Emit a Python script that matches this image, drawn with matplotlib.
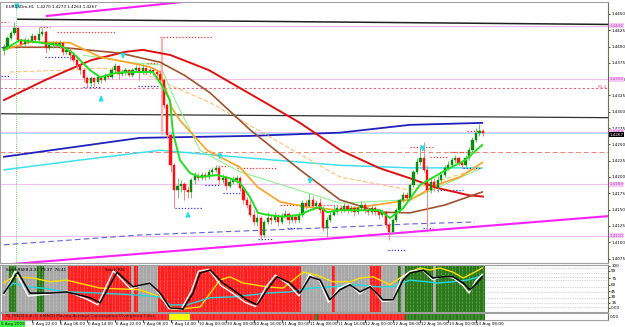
import matplotlib
matplotlib.use('Agg')
import matplotlib.pyplot as plt
from matplotlib.patches import Rectangle

# ---------------- data ----------------
title = "EURUSDm,H1  1.4270 1.4273 1.4263 1.4267"
first_open = 1.4395
close = [1.4399,1.4413,1.4421,1.4428,1.4410,1.4404,1.4410,1.4407,1.4416,1.4410,
         1.4419,1.4422,1.4398,1.4402,1.4406,1.4402,1.4406,1.4392,1.4395,1.4387,
         1.4379,1.4372,1.4364,1.4352,1.4344,1.4352,1.4346,1.4353,1.4349,1.4356,
         1.4353,1.4364,1.4370,1.4358,1.4361,1.4364,1.4356,1.4364,1.4367,1.4361,
         1.4367,1.4361,1.4364,1.4361,1.4358,1.4349,1.4310,1.4264,1.4218,1.4180,
         1.4186,1.4189,1.4180,1.4177,1.4195,1.4202,1.4198,1.4203,1.4200,1.4208,
         1.4211,1.4214,1.4195,1.4198,1.4186,1.4192,1.4195,1.4198,1.4183,1.4165,
         1.4157,1.4142,1.4131,1.4137,1.4111,1.4131,1.4137,1.4134,1.4140,1.4131,
         1.4140,1.4143,1.4134,1.4139,1.4134,1.4142,1.4160,1.4156,1.4165,1.4156,
         1.4160,1.4149,1.4122,1.4134,1.4142,1.4146,1.4152,1.4149,1.4156,1.4149,
         1.4152,1.4146,1.4152,1.4157,1.4149,1.4146,1.4152,1.4146,1.4142,1.4146,
         1.4126,1.4116,1.4134,1.4149,1.4165,1.4172,1.4168,1.4188,1.4208,1.4223,
         1.4229,1.4211,1.4180,1.4192,1.4183,1.4195,1.4203,1.4214,1.4218,1.4226,
         1.4229,1.4222,1.4218,1.4229,1.4241,1.4257,1.4268,1.4270,1.4267]
high = [1.4404,1.4416,1.4424,1.4438,1.4430,1.4413,1.4415,1.4413,1.4421,1.4418,
        1.4430,1.4428,1.4425,1.4407,1.4409,1.4409,1.4410,1.4407,1.4399,1.4399,
        1.4390,1.4384,1.4375,1.4367,1.4355,1.4355,1.4353,1.4356,1.4356,1.4360,
        1.4360,1.4369,1.4375,1.4372,1.4366,1.4369,1.4366,1.4367,1.4372,1.4370,
        1.4373,1.4369,1.4367,1.4366,1.4363,1.4364,1.4352,1.4314,1.4268,1.4222,
        1.4198,1.4195,1.4192,1.4186,1.4198,1.4208,1.4206,1.4208,1.4208,1.4212,
        1.4215,1.4218,1.4217,1.4205,1.4203,1.4198,1.4202,1.4203,1.4202,1.4188,
        1.4169,1.4165,1.4149,1.4143,1.4140,1.4134,1.4146,1.4142,1.4146,1.4143,
        1.4145,1.4149,1.4146,1.4143,1.4142,1.4146,1.4165,1.4165,1.4175,1.4171,
        1.4165,1.4168,1.4156,1.4139,1.4146,1.4157,1.4157,1.4157,1.4160,1.4159,
        1.4157,1.4156,1.4157,1.4163,1.4160,1.4154,1.4157,1.4156,1.4151,1.4151,
        1.4149,1.4131,1.4137,1.4152,1.4168,1.4177,1.4177,1.4191,1.4211,1.4229,
        1.4249,1.4254,1.4218,1.4198,1.4198,1.4202,1.4208,1.4218,1.4225,1.4231,
        1.4234,1.4231,1.4225,1.4234,1.4246,1.4261,1.4275,1.4281,1.4273]
low = [1.4387,1.4396,1.4410,1.4418,1.4407,1.4399,1.4401,1.4404,1.4406,1.4407,
       1.4409,1.4416,1.4390,1.4395,1.4398,1.4399,1.4398,1.4387,1.4389,1.4379,
       1.4376,1.4367,1.4358,1.4346,1.4338,1.4340,1.4340,1.4343,1.4344,1.4347,
       1.4350,1.4350,1.4361,1.4350,1.4355,1.4356,1.4353,1.4353,1.4363,1.4349,
       1.4358,1.4358,1.4358,1.4356,1.4352,1.4346,1.4306,1.4260,1.4208,1.4152,
       1.4168,1.4177,1.4165,1.4168,1.4168,1.4189,1.4194,1.4195,1.4195,1.4197,
       1.4203,1.4208,1.4189,1.4191,1.4180,1.4183,1.4189,1.4191,1.4179,1.4159,
       1.4152,1.4139,1.4126,1.4125,1.4103,1.4108,1.4128,1.4128,1.4131,1.4125,
       1.4128,1.4137,1.4128,1.4131,1.4129,1.4131,1.4139,1.4151,1.4154,1.4149,
       1.4152,1.4145,1.4117,1.4108,1.4131,1.4140,1.4143,1.4145,1.4146,1.4145,
       1.4146,1.4140,1.4143,1.4149,1.4145,1.4142,1.4143,1.4142,1.4136,1.4139,
       1.4122,1.4103,1.4113,1.4131,1.4146,1.4162,1.4163,1.4165,1.4185,1.4205,
       1.4218,1.4208,1.4119,1.4175,1.4179,1.4177,1.4192,1.4200,1.4211,1.4215,
       1.4222,1.4218,1.4214,1.4215,1.4226,1.4238,1.4254,1.4263,1.4263]

# moving averages (bar index, price)
red_ma_x = [0,12,25,35,40,48,59,74,85,97,108,117,125,134,138]
red_ma_y = [1.4318,1.4349,1.4379,1.4392,1.4395,1.4387,1.4364,1.4318,1.4284,1.4241,1.4214,1.4198,1.4183,1.4172,1.4170]
brown_ma_x = [0,16,33.4,45,52,59.4,71,85.3,96.8,108.4,117,127,137.8]
brown_ma_y = [1.4399,1.4399,1.4390,1.4376,1.4356,1.4329,1.4272,1.4211,1.4165,1.4146,1.4145,1.4157,1.4177]
orange_ma_x = [0,7.5,19,27.7,35.4,42,45,48.4,50.7,58.5,68,73,79.5,87.3,96.8,117,124.8,131.4,137.8]
orange_ma_y = [1.4395,1.4407,1.4406,1.4384,1.4376,1.4369,1.4361,1.4306,1.4287,1.4241,1.4215,1.4185,1.4162,1.4154,1.4149,1.4165,1.4188,1.4200,1.4222]
green_ma_x = [0,4.6,10.4,16.1,19.9,24.8,27.7,32.6,37.2,42.9,45.8,47.8,48.7,50.7,53.6,56.5,61.4,65.1,68,70.9,
              73.2,75.8,80.4,85.3,88.2,91.1,93.1,96.8,108.4,111.2,115,119.9,126.5,132.9,137.8]
green_ma_y = [1.4395,1.4410,1.4406,1.4402,1.4390,1.4364,1.4353,1.4360,1.4361,1.4361,1.4338,1.4318,1.4268,1.4226,1.4206,1.4200,1.4203,1.4198,1.4191,1.4169,
              1.4145,1.4142,1.4139,1.4142,1.4149,1.4154,1.4146,1.4149,1.4149,1.4137,1.4152,1.4188,1.4208,1.4226,1.4249]
blue_ma_x = [0,39.2,70.9,96.8,117,137.8]
blue_ma_y = [1.4231,1.4260,1.4263,1.4268,1.4280,1.4283]
cyan_ma_x = [0,21.9,45,70.9,96.8,117,137.8]
cyan_ma_y = [1.4211,1.4226,1.4241,1.4229,1.4218,1.4214,1.4214]
lorange_x = [1.7,18.2,27.7,39.2,59.4,96.8,117,137.8]
lorange_y = [1.4361,1.4364,1.4367,1.4361,1.4314,1.4200,1.4180,1.4215]
lgreen_x = [22.8,37.2,45,49.3,56.5,68,96.8,117,137.8]
lgreen_y = [1.4387,1.4375,1.4372,1.4318,1.4241,1.4208,1.4160,1.4165,1.4214]
purple_x = [0,39.2,96.8,117,135.7]
purple_y = [1.4096,1.4111,1.4123,1.4128,1.4131]

# trend / level lines
chan_low_x = [-1.2, 174.1]
chan_low_y = [1.4065, 1.4140]
chan_high_x = [12.4, 80]
chan_high_y = [1.4447, 1.4484]
black_top_x = [4, 174.1]
black_top_y = [1.4442, 1.4434]
black_mid_x = [-1.2, 174.1]
black_mid_y = [1.4297, 1.4291]
pivot_levels = [1.4432, 1.4350, 1.4269, 1.4189, 1.4110]
red_level = 1.4336
salmon_level = 1.4238
bid = 1.4267

# fractal dotted segments (start bar, end bar, price)
frac_hi = [(-1,1.2,1.4438),(10.4,13.3,1.4430),(15.3,32,1.4422),(41.2,44.1,1.4375),(45,60,1.4415),
           (61.7,64.6,1.4217),(67.1,78.7,1.4214),(79.5,96.8,1.4157),(117,123.6,1.4246),
           (122.8,127.7,1.4231),(128.5,133.4,1.4238),(133.4,137.2,1.4270)]
frac_lo = [(-1,4.6,1.4399),(-1,1.7,1.4355),(11.8,21,1.4384),(22.8,27.7,1.4338),(38.6,45,1.4340),
           (49.3,57.3,1.4152),(57.9,62.2,1.4188),(63.1,68,1.4175),(73.2,77.5,1.4105),(81.6,84.4,1.4122),
           (110.7,115.6,1.4088),(120.7,123.6,1.4122),(124.8,132.3,1.4180),(132.3,137.2,1.4214)]
arrows_down = [(3.7,1.4459),(34.3,1.4383),(62.2,1.4229),(88.2,1.4191),(120.7,1.4241)]
arrows_up = [(28,1.4323),(53,1.4145)]
news_bar, news_top, news_bot = 45.5, 1.4415, 1.4264
marker_bar = 3.5

# oscillator
yel_x = [0,2.6,8.4,13.3,18,27.7,39.2,45,47.8,50.7,56.5,62.2,65.1,68.9,75.8,80.4,86.2,90.2,94.8,99.7,102.6,106.3,111.2,114.1,117,119.9,122.8,125.6,129.4,132.3,135.2,137.8]
yel_y = [64,79,76,67,71,52,48,31,7,2,7,71,79,64,55,52,90,83,67,67,76,79,60,76,90,100,95,100,90,76,88,100]
cya_x = [0,2.6,6.6,11.2,18,27.7,37.2,45,47.8,52.7,59.4,66,75.8,82.4,88.2,94.8,101.7,107.5,112.1,117,121.9,124.8,129.4,133.4,137.8]
cya_y = [43,64,55,52,43,40,36,31,12,12,29,31,40,43,52,55,60,55,55,71,67,64,67,71,81]
blk_x = [0,4,7.5,13.3,18,24.8,27.7,32.6,37.2,42,45,47.8,51.6,54.5,56.5,59.4,63.1,66,70,72.9,75.8,78.7,82.4,85.3,88.2,91.1,93.9,96.8,99.7,102.6,105.5,109.2,112.1,115,117,120.8,123.6,126.5,129.4,132.3,134.3,136.3,137.8]
blk_y = [40,90,40,40,43,29,17,90,55,64,40,5,2,40,88,95,64,48,24,12,48,79,64,40,79,71,24,48,60,43,55,24,24,71,88,95,76,79,79,64,48,64,79]
wht_x = [0,3.2,7,13.3,18,24,27,31.5,36.5,42,45,47.5,51,54,56,59,62.5,65.5,69.5,72.5,75.5,78.2,82,85,88,91,93.5,96.5,99.5,102.5,105.5,109,112,114.5,117,120.5,123.5,126.5,129.5,132.3,134,136,137.8]
wht_y = [36,93,33,38,45,25,12,93,50,66,35,3,1,45,92,97,58,42,18,8,55,83,60,33,85,68,18,52,63,38,58,20,22,76,92,96,72,80,76,58,40,70,85]
osc_runs = [('gray',2),('green',2),('gray',6),('green',2),('gray',7),('red',18),('gray',1),('red',1),
            ('gray',6),('red',41),('gray',9),('red',1),('gray',10),('red',3),('gray',5),('green',1),
            ('gray',1),('green',8),('gray',1),('green',14)]
osc_levels = [100, 88, 79, 71, 55, 43, 29, 17, 7]
osc_labels = ['100', '90', '75', '60', '45', '30', '15', '0.00']
osc_label_vals = [105, 93, 76, 60, 45, 31, 17, 5]
strip_runs = [('red',48),('yellow',6),('red',36),('green',1),('red',25),('green',23)]

time_labels = ["5 Aug 22:00","6 Aug 06:00","6 Aug 14:00","6 Aug 22:00","7 Aug 06:00","7 Aug 14:00",
               "10 Aug 00:00","10 Aug 08:00","10 Aug 16:00","11 Aug 00:00","11 Aug 08:00","11 Aug 16:00",
               "12 Aug 00:00","12 Aug 08:00","12 Aug 16:00","13 Aug 00:00","13 Aug 08:00"]
time_label_bars = [8*k for k in range(1, 18)]
first_date = "5 Aug 2009"

# ---------------- figure ----------------
W, H = 625, 327
fig = plt.figure(figsize=(W/100, H/100), dpi=100)
fig.patch.set_facecolor('white')
def fx(p): return p / W
def fy(p): return 1 - p / H

XMIN, XMAX = -1.15, 174.05
ax = fig.add_axes([0, fy(263), fx(608), (263 - 2) / H])
osc = fig.add_axes([0, fy(312), fx(608), (312 - 265) / H])
strip = fig.add_axes([0, fy(320), fx(608), (320 - 313) / H])
for a in (ax, osc, strip):
    a.set_xlim(XMIN, XMAX)
    a.set_xticks([])
    for s in a.spines.values():
        s.set_color('#a0a0a0'); s.set_linewidth(0.8)
    a.spines['right'].set_color('#707050')
ax.set_ylim(1.40681, 1.44684)
osc.set_ylim(-5, 107)
strip.set_ylim(0, 1)

FS = 3.0
# price axis
ticks = [1.4075 + 0.0025 * k for k in range(16)]
ax.yaxis.tick_right()
ax.set_yticks(ticks)
ax.set_yticklabels(['%.4f' % t for t in ticks], fontsize=FS)
ax.tick_params(axis='y', length=1.5, width=0.5, pad=0.8, colors='black')

# levels
ax.axhline(bid, color='#80e8ff', lw=1.2, zorder=1)
for p in pivot_levels:
    ax.axhline(p, color='#f0c0f0', lw=0.8, zorder=1)
ax.axhline(red_level, color='#f06080', lw=0.8, ls=(0, (2, 2)), zorder=1)
ax.axhline(salmon_level, color='#f08070', lw=0.7, ls=(0, (5, 3)), zorder=1)

# trend lines
ax.plot(black_top_x, black_top_y, color='#202020', lw=1.1, zorder=2)
ax.plot(black_mid_x, black_mid_y, color='#303030', lw=0.9, zorder=2)
ax.plot(chan_low_x, chan_low_y, color='#ff20ff', lw=1.5, zorder=2)
ax.plot(chan_high_x, chan_high_y, color='#ff20ff', lw=1.5, zorder=2)

# moving averages
ax.plot(purple_x, purple_y, color='#6060e0', lw=0.8, ls=(0, (5, 3)), zorder=2)
ax.plot(blue_ma_x, blue_ma_y, color='#2020c0', lw=1.3, zorder=2)
ax.plot(cyan_ma_x, cyan_ma_y, color='#40e0f0', lw=1.1, zorder=2)
ax.plot(lorange_x, lorange_y, color='#ffc070', lw=0.8, ls=(0, (4, 2)), zorder=2)
ax.plot(lgreen_x, lgreen_y, color='#90f090', lw=0.8, zorder=2)
ax.plot(red_ma_x, red_ma_y, color='#e01010', lw=1.4, zorder=3)
ax.plot(brown_ma_x, brown_ma_y, color='#a0522d', lw=1.2, zorder=3)
ax.plot(orange_ma_x, orange_ma_y, color='#ffa020', lw=1.2, zorder=3)

# fractal lines
for a0, a1, p in frac_hi:
    ax.plot([a0, a1], [p, p], color='#ff3030', lw=0.9, ls=(0, (1, 1.5)), zorder=2)
for a0, a1, p in frac_lo:
    ax.plot([a0, a1], [p, p], color='#3030ff', lw=0.9, ls=(0, (1, 1.5)), zorder=2)

# special verticals
ax.vlines(news_bar, news_bot, news_top, color='#ffb0b0', lw=1.6, zorder=2)
for a in (ax, osc, strip):
    a.axvline(marker_bar, color='#40c040', lw=0.6, ls=(0, (1, 1.5)), zorder=6)

# candles
opens = [first_open] + close[:-1]
for i, (o, h, l, c) in enumerate(zip(opens, high, low, close)):
    bull = c >= o
    col = '#0c8c0c' if bull else '#ff1010'
    wick = '#70c070' if bull else '#ff8080'
    ax.vlines(i, l, h, color=wick, lw=0.7, zorder=4)
    ax.add_patch(Rectangle((i - 0.32, min(o, c)), 0.64, max(abs(c - o), 0.00006),
                           facecolor=col, edgecolor=col, lw=0.3, zorder=5))

ax.plot(green_ma_x, green_ma_y, color='#20e020', lw=1.4, zorder=6)

# arrows
for b, p in arrows_down:
    ax.annotate('', xy=(b, p - 0.0006), xytext=(b, p + 0.0006),
                arrowprops=dict(arrowstyle='-|>', color='#20e0f0', lw=1.4, mutation_scale=5), zorder=7)
for b, p in arrows_up:
    ax.annotate('', xy=(b, p + 0.0006), xytext=(b, p - 0.0006),
                arrowprops=dict(arrowstyle='-|>', color='#20e0f0', lw=1.4, mutation_scale=5), zorder=7)

ax.text(0.5, 1.4461, title, fontsize=FS, color='black', va='center', ha='left', zorder=8)

# right price boxes
for p in pivot_levels:
    ax.text(XMAX + 0.5, p, '%.4f' % p, fontsize=FS, color='#c040c0', va='center', ha='left',
            bbox=dict(facecolor='#f6c8f6', edgecolor='none', pad=0.4), clip_on=False, zorder=9)
ax.text(XMAX + 0.5, bid - 0.0002, '%.4f' % bid, fontsize=FS, color='white', va='center', ha='left',
        bbox=dict(facecolor='black', edgecolor='none', pad=0.4), clip_on=False, zorder=9)
ax.text(XMAX - 0.5, red_level + 0.0002, 'R1.4', fontsize=FS, color='#f06080', ha='right', va='center')

# oscillator background
cmap = {'gray': '#a8a8a8', 'green': '#2a7a1a', 'red': '#ff2020', 'yellow': '#ffff00'}
pos = 0
for name, n in osc_runs:
    osc.bar(range(pos, pos + n), [112] * n, bottom=-5, width=1.0, color=cmap[name], lw=0, zorder=1)
    pos += n
osc.vlines([b for b in range(pos)], -5, 107, color='white', lw=0.4, ls=(0, (1, 1.5)), alpha=0.7, zorder=2)
for lv in osc_levels:
    osc.axhline(lv, color='#b0b0b0', lw=0.5, ls=(0, (1, 1.5)), zorder=0)
osc.plot(yel_x, yel_y, color='#ffe000', lw=1.0, zorder=3)
osc.plot(cya_x, cya_y, color='#20d8e0', lw=1.0, zorder=3)
osc.plot(wht_x, wht_y, color='white', lw=1.0, zorder=4)
osc.plot(blk_x, blk_y, color='black', lw=1.1, zorder=5)
osc.yaxis.tick_right()
osc.set_yticks(osc_label_vals)
osc.set_yticklabels(osc_labels, fontsize=FS)
osc.tick_params(axis='y', length=1.5, width=0.5, pad=0.8)
osc.text(0.5, 101, 'StochRSI(8,3,3)  79.37  76.41', fontsize=FS, color='black', va='top', zorder=6)
osc.text(29, 101, 'Stoch RSI', fontsize=FS, color='black', va='top', zorder=6)

# strip
pos = 0
for name, n in strip_runs:
    strip.bar(range(pos, pos + n), [1] * n, width=1.0, color=cmap[name], lw=0, zorder=1)
    pos += n
strip.vlines(range(pos), 0, 1, color='white', lw=0.3, alpha=0.5, zorder=2)
strip.text(0.5, 0.5, 'Ri_MACD(5,8,3) #MACD Moving Average Convergence Divergence Color',
           fontsize=FS, va='center', ha='left', color='#202020', zorder=3)
strip.set_yticks([0.5])
strip.yaxis.tick_right()
strip.set_yticklabels(['0.00'], fontsize=FS)
strip.tick_params(axis='y', length=0, pad=1)

# time labels
fig.text(fx(1), fy(324), first_date, fontsize=FS, va='center', ha='left', color='black',
         bbox=dict(facecolor='#40ff40', edgecolor='none', pad=0.5))
for b, lab in zip(time_label_bars, time_labels):
    xp = (b - XMIN) / (XMAX - XMIN) * 608
    fig.text(fx(xp + 0.5), fy(324), lab, fontsize=FS, va='center', ha='left', color='black')
    fig.add_artist(plt.Line2D([fx(xp), fx(xp)], [fy(320), fy(322)], color='black', lw=0.5))

fig.savefig('out.png', dpi=100, facecolor='white')
